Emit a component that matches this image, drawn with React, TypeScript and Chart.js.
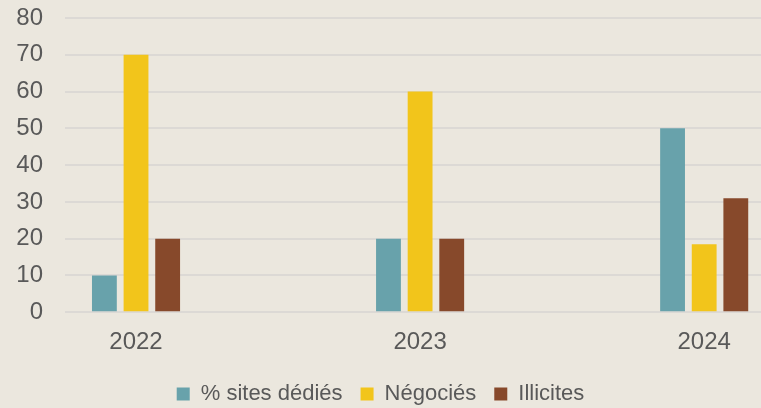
import React, { useEffect, useRef } from "react";
import { Chart, registerables } from "chart.js";

Chart.register(...registerables);

const categories = ["2022", "2023", "2024"];
const sitesDedies = [10, 20, 50];
const negocies = [70, 60, 18.5];
const illicites = [20, 20, 31];
const seriesNames = ["% sites dédiés", "Négociés", "Illicites"];
const seriesColors = ["#68a2ab", "#f2c51b", "#87492b"];
const yTicks = [0, 10, 20, 30, 40, 50, 60, 70, 80];

const TEXT = "#595959";
const FONT = "'Liberation Sans', Arial, sans-serif";

export default function App() {
  const ref = useRef<HTMLCanvasElement | null>(null);

  useEffect(() => {
    if (!ref.current) return;
    const toPoints = (arr: number[]) => arr.map((v, i) => ({ x: i, y: v }));
    const chart = new Chart(ref.current, {
      type: "bar",
      data: {
        datasets: [sitesDedies, negocies, illicites].map((arr, k) => ({
          label: seriesNames[k],
          data: toPoints(arr),
          backgroundColor: seriesColors[k],
          borderWidth: 0,
          categoryPercentage: 0.334,
          barPercentage: 0.785,
        })),
      },
      options: {
        animation: false,
        responsive: true,
        maintainAspectRatio: false,
        layout: { padding: { top: 18, left: 0, right: 0, bottom: -7 } },
        plugins: {
          tooltip: { enabled: false },
          legend: {
            position: "bottom",
            labels: {
              boxWidth: 13,
              boxHeight: 13,
              padding: 18,
              color: TEXT,
              font: { family: FONT, size: 22 },
            },
          },
        },
        scales: {
          x: {
            type: "linear",
            offset: false,
            min: -0.25,
            max: 2.2,
            grid: { display: false, offset: false },
            border: { display: false },
            afterBuildTicks: (scale: any) => {
              scale.ticks = categories.map((_, i) => ({ value: i }));
            },
            afterFit: (scale: any) => {
              scale.height = scale.height + 1;
            },
            ticks: {
              color: TEXT,
              font: { family: FONT, size: 24 },
              padding: 7.5,
              callback: (v: any) => categories[Number(v)] ?? "",
            },
          },
          y: {
            min: 0,
            max: 80,
            afterBuildTicks: (scale: any) => {
              scale.ticks = yTicks.map((v) => ({ value: v }));
            },
            afterFit: (scale: any) => {
              scale.width = 65;
              scale.paddingTop = 0;
              scale.paddingBottom = 0;
            },
            grid: { color: "#dcd9d5", lineWidth: 2, drawTicks: false },
            border: { display: false },
            ticks: {
              color: TEXT,
              font: { family: FONT, size: 24 },
              padding: 22,
            },
          },
        },
      },
    });
    return () => chart.destroy();
  }, []);

  return (
    <div
      style={{
        position: "fixed",
        left: 0,
        top: 0,
        width: 761,
        height: 408,
        background: "#ebe7de",
      }}
    >
      <canvas ref={ref} />
    </div>
  );
}
